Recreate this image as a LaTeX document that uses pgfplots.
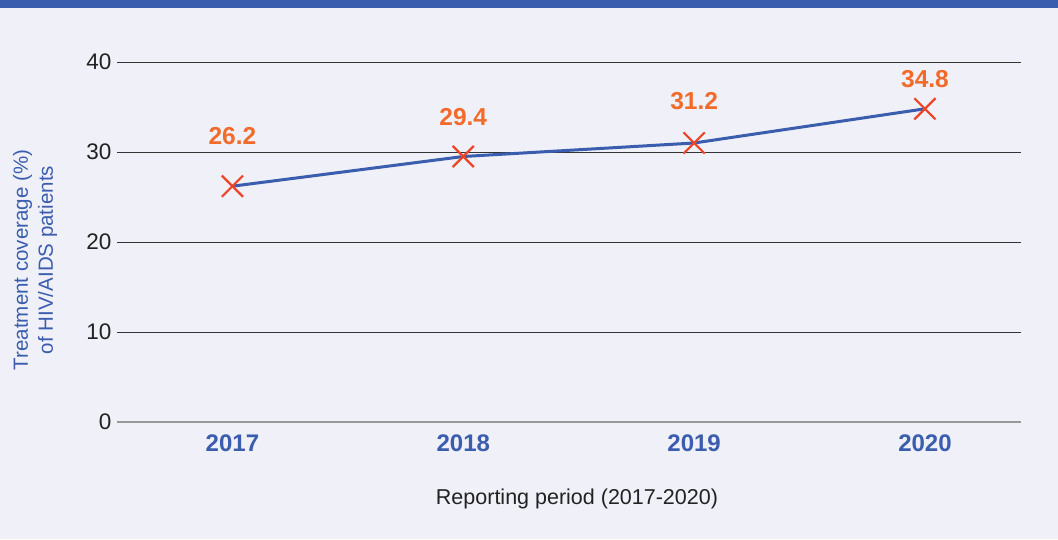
\documentclass[border=0pt]{standalone}
\usepackage{pgfplots}
\pgfplotsset{compat=1.18}
\usepackage{fontspec}
\setmainfont{Liberation Sans}
\definecolor{bgc}{HTML}{EFF0F8}
\definecolor{bandc}{HTML}{3A5DAE}
\definecolor{linec}{HTML}{3A5DAE}
\definecolor{markc}{HTML}{EE4528}
\definecolor{labc}{HTML}{F26B2A}
\definecolor{gridc}{HTML}{333333}
\definecolor{txtc}{HTML}{222222}
\begin{document}
\begin{tikzpicture}
\fill[bgc] (0,0) rectangle (1058pt,539pt);
\fill[bandc] (0,531pt) rectangle (1058pt,539pt);
\begin{axis}[
  at={(117pt,117pt)}, anchor=south west,
  scale only axis, width=904pt, height=360pt,
  xmin=-0.5, xmax=3.416, ymin=0, ymax=40,
  axis line style={draw=none},
  xtick={0,1,2,3}, xticklabels={2017,2018,2019,2020},
  ytick={0,10,20,30,40},
  major tick length=0pt,
  ymajorgrids, grid style={gridc, line width=1pt},
  xticklabel style={font=\fontsize{24}{28}\selectfont\bfseries, text=linec, yshift=-9pt},
  yticklabel style={font=\fontsize{22.5}{26}\selectfont, text=txtc, xshift=-2pt},
  /pgf/number format/assume math mode=true,
  clip=false,
]
\draw[gray!80!white, line width=1.5pt] (axis cs:-0.5,0) -- (axis cs:3.416,0);
\addplot[linec, line width=3pt, mark=x, mark size=15pt,
  mark options={markc, line width=2.2pt},
  nodes near coords, point meta=explicit symbolic,
  visualization depends on={\thisrow{off}\as\off},
  every node near coord/.append style={anchor=center, yshift=\off pt,
    font=\fontsize{24.5}{28}\selectfont\bfseries, text=labc}]
  table[x=x, y=y, meta=lab] {
x y lab off
0 26.2 26.2 50
1 29.5 29.4 39
2 31.0 31.2 42
3 34.8 34.8 30
};
\end{axis}
\node[rotate=90, align=center, text=linec, font=\fontsize{20.5}{25}\selectfont] at (35pt,279pt) {Treatment coverage (\%)\\of HIV/AIDS patients};
\node[text=txtc, font=\fontsize{21.5}{25}\selectfont] at (577pt,40pt) {Reporting period (2017-2020)};
\pgfresetboundingbox
\path[use as bounding box] (0,0) rectangle (1058pt,539pt);
\end{tikzpicture}
\end{document}
